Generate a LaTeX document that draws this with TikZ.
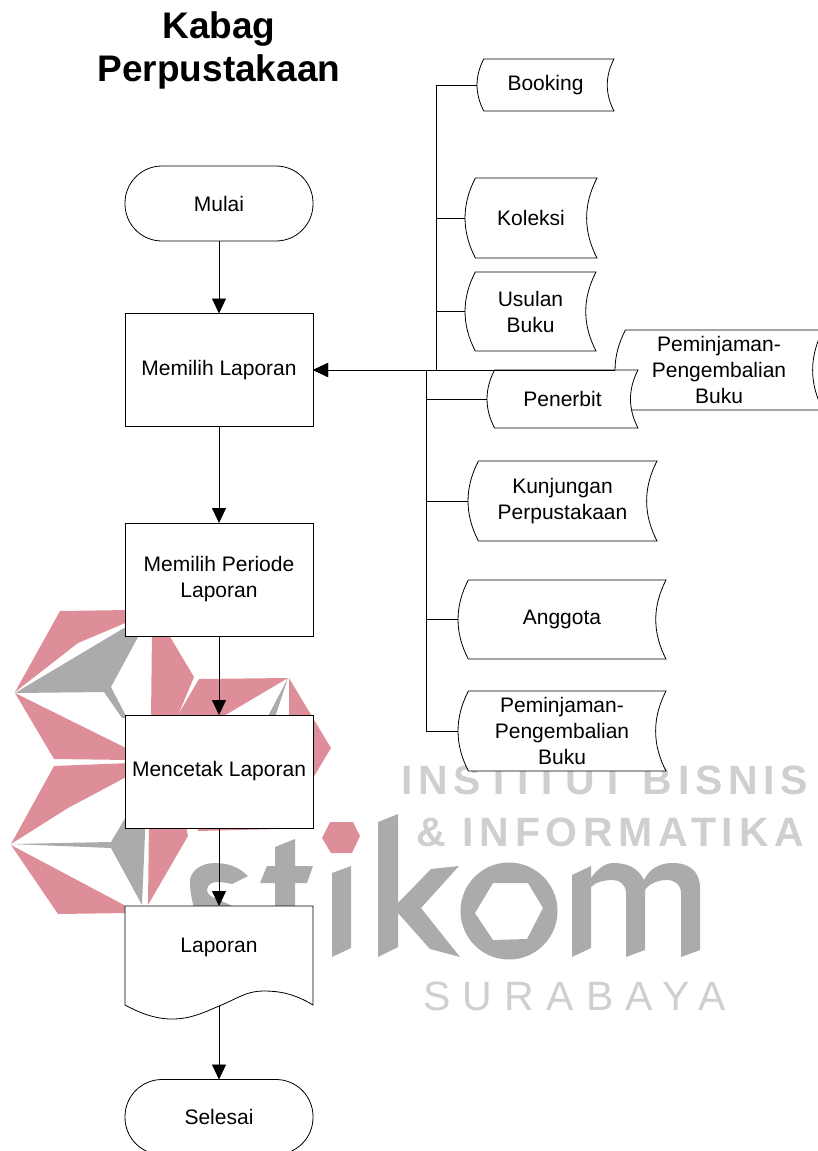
\documentclass[tikz,border=0pt]{standalone}
\usepackage{fontspec}
\setmainfont{Liberation Sans}
\newfontfamily\wmfont[LetterSpace=14]{Liberation Sans}
\newfontfamily\wmlight[LetterSpace=30]{Liberation Sans}
\usetikzlibrary{arrows.meta}
\definecolor{wmred}{HTML}{DE8E98}
\definecolor{wmgrey}{HTML}{ABABAD}
\definecolor{wmtext}{HTML}{CFCFCF}
\tikzset{
  flowbox/.style={draw,fill=white,minimum width=188pt,minimum height=113pt,align=center},
  terminal/.style={draw,fill=white,rounded corners=37pt,minimum width=188pt,minimum height=75pt},
  outlinepath/.style={draw,fill=white,line width=0.8pt},
  branchline/.style={line width=0.8pt},
  flowarrow/.style={line width=0.8pt,-{Triangle[length=15pt,width=14pt]}},
  redpart/.style={fill=wmred},
  greypart/.style={fill=wmgrey}
}
\newcommand{\storeddata}[6]{
  \pgfmathsetmacro{\dleft}{#2+0.13*(#5-#3)}
  \pgfmathsetmacro{\dctrl}{#2-0.043*(#5-#3)}
  \pgfmathsetmacro{\dtip}{#4-0.173*(#5-#3)}
  \pgfmathsetmacro{\dtop}{#3+(#5-#3)/3}
  \pgfmathsetmacro{\dbot}{#5-(#5-#3)/3}
  \draw[outlinepath] (\dleft,#3) -- (#4,#3)
    .. controls (\dtip,\dtop) and (\dtip,\dbot) .. (#4,#5)
    -- (\dleft,#5)
    .. controls (\dctrl,\dbot) and (\dctrl,\dtop) .. cycle;
  \pgfmathsetmacro{\dw}{#4-#2}
  \pgfmathsetmacro{\dh}{#5-#3}
  \node[minimum width=\dw pt,minimum height=\dh pt,align=center] (#1) at ({(#2+#4)/2},{(#3+#5)/2}) {#6};
}
\begin{document}
\begin{tikzpicture}[x=1pt,y=-1pt,line width=0.8pt,
    every node/.style={font=\fontsize{21}{26}\selectfont,inner sep=0pt,outer sep=0pt}]
  \clip (0,0) rectangle (818,1151);
  \path[redpart] (15,692) -- (60,611) -- (130,610) -- (130,621) -- (78,643) -- cycle;
  \path[greypart] (15,693) -- (124,628) -- (138,637) -- (111,687) -- (127,718) -- (122,718) -- (104,692) -- cycle;
  \path[redpart] (15,693) -- (130,750) -- (130,760) -- (54,759) -- cycle;
  \path[redpart] (54,766) -- (130,763) -- (130,775) -- (68,808) -- (11,844) -- cycle;
  \path[greypart] (11,844) -- (111,842) -- (130,810) -- (146,810) -- (142,905) -- (111,848) -- cycle;
  \path[redpart] (11,845) -- (124,905) -- (130,913) -- (58,914) -- cycle;
  \path[redpart] (149,820) -- (185,820) -- (188,836) -- (148,905) -- cycle;
  \path[redpart] (152,630) -- (166,630) -- (194,677) -- (176,720) -- (151,720) -- cycle;
  \path[redpart] (199,679) -- (288,678) -- (217,720) -- (175,720) -- cycle;
  \path[greypart] (288,678) -- (266,720) -- (274,720) -- cycle;
  \path[redpart] (289,678) -- (331,748) -- (313,778) -- (300,778) -- (289,720) -- cycle;
  \path[redpart] (197,820) -- (198,831) -- (278,829) -- (280,820) -- cycle;
  \path[redpart] (330,822) -- (353,822) -- (360,836) -- (352,853) -- (331,853) -- (322,838) -- cycle;
  \path[greypart] (248,876) .. controls (238,866) and (226,863) .. (215,863)
    .. controls (200,863) and (189,872) .. (190,883)
    .. controls (190,892) and (192,900) .. (195,912) -- (240,912) -- (232,906)
    .. controls (222,900) and (207,898) .. (207,890)
    .. controls (207,885) and (212,882) .. (217,882)
    .. controls (222,882) and (228,883) .. (232,884) -- cycle;
  \path[greypart] (275,847) -- (295,839) -- (295,866) -- (313,866) -- (307,883) -- (295,883) -- (295,930) -- (275,930) -- (275,883) -- (260,883) -- (267,866) -- (275,866) -- cycle;
  \path[greypart] (332,873) -- (351,866) -- (351,948) -- (332,957) -- cycle;
  \path[greypart] (378,822) -- (398,814) -- (398,903) -- (431,869) -- (459,866) -- (421,908) -- (460,957) -- (430,949) -- (398,913) -- (398,947) -- (378,957) -- cycle;
  \path[greypart,even odd rule] (509,911) circle[radius=48.5]
    (493,883) -- (528,883) -- (543,908) -- (527,939) -- (493,940) -- (475,913) -- cycle;
  \path[greypart] (572,875) -- (591,866) -- (591,878) .. controls (598,868) and (606,863) .. (613,863)
    .. controls (628,863) and (638,868) .. (644,880)
    .. controls (650,868) and (660,863) .. (673,863)
    .. controls (690,863) and (700,872) .. (700,888) -- (700,950) -- (681,957) -- (681,893)
    .. controls (681,885) and (675,880) .. (667,880)
    .. controls (657,880) and (649,884) .. (645,890) -- (645,950) -- (626,957) -- (626,893)
    .. controls (626,885) and (620,880) .. (613,880)
    .. controls (604,880) and (596,882) .. (591,887) -- (591,948) -- (572,957) -- cycle;
  \node[anchor=west,text=wmtext,font=\wmfont\bfseries\fontsize{41}{41}\selectfont] (wmInstitut) at (401,780) {INSTITUT BISNIS};
  \node[anchor=west,text=wmtext,font=\wmfont\bfseries\fontsize{41}{41}\selectfont] (wmInformatika) at (416,832) {\& INFORMATIKA};
  \node[anchor=west,text=wmtext,font=\wmlight\fontsize{41}{41}\selectfont] (wmSurabaya) at (423,996) {SURABAYA};

  \node[align=center,font=\bfseries\fontsize{37}{43}\selectfont] (judul) at (219,50) {Kabag\\Perpustakaan};
  \node[terminal] (mulai) at (219,203.5) {Mulai};
  \node[flowbox] (memilih) at (219,370) {Memilih Laporan};
  \node[flowbox] (periode) at (219,579.5) {Memilih Periode\\Laporan};
  \node[flowbox] (mencetak) at (219,771.5) {Mencetak Laporan};
  \draw[outlinepath] (125,906) -- (313,906) -- (313,1005)
    .. controls (295,994) and (280,991) .. (264,991)
    .. controls (245,991) and (235,1000) .. (219,1006)
    .. controls (203,1013) and (190,1019) .. (172,1019)
    .. controls (155,1019) and (140,1013) .. (125,1005) -- cycle;
  \node[minimum width=188pt,minimum height=100pt,label={[yshift=9pt]center:Laporan}] (laporan) at (219,956) {};
  \node[terminal] (selesai) at (219,1117) {Selesai};

  \storeddata{booking}{477}{59}{614}{111}{Booking}
  \storeddata{koleksi}{465}{178}{597}{258}{Koleksi}
  \storeddata{usulan}{465}{272}{596}{351}{Usulan\\Buku}
  \storeddata{pinjamAtas}{615}{330}{823}{410}{Peminjaman-\\Pengembalian\\Buku}
  \storeddata{penerbit}{487}{370}{638}{428}{Penerbit}
  \storeddata{kunjungan}{468}{461}{657}{541}{Kunjungan\\Perpustakaan}
  \storeddata{anggota}{458}{580}{666}{659}{Anggota}
  \storeddata{pinjamBawah}{458}{691}{666}{771}{Peminjaman-\\Pengembalian\\Buku}

  \coordinate (busAtas) at (436,370);
  \coordinate (busBawah) at (426,370);
  \draw[flowarrow] (mulai) -- (memilih);
  \draw[flowarrow] (memilih) -- (periode);
  \draw[flowarrow] (periode) -- (mencetak);
  \draw[flowarrow] (mencetak) -- (laporan);
  \draw[flowarrow] (laporan) -- (selesai);
  \draw[flowarrow] (pinjamAtas.west) -- (memilih.east);
  \draw[flowarrow] (busAtas) -- (memilih.east);
  \draw[branchline] (booking.west) -| (busAtas);
  \draw[branchline] (koleksi.west) -| (busAtas);
  \draw[branchline] (usulan.west) -| (busAtas);
  \draw[branchline] (penerbit.west) -| (busBawah);
  \draw[branchline] (kunjungan.west) -| (busBawah);
  \draw[branchline] (anggota.west) -| (busBawah);
  \draw[branchline] (pinjamBawah.west) -| (busBawah);
\end{tikzpicture}
\end{document}
